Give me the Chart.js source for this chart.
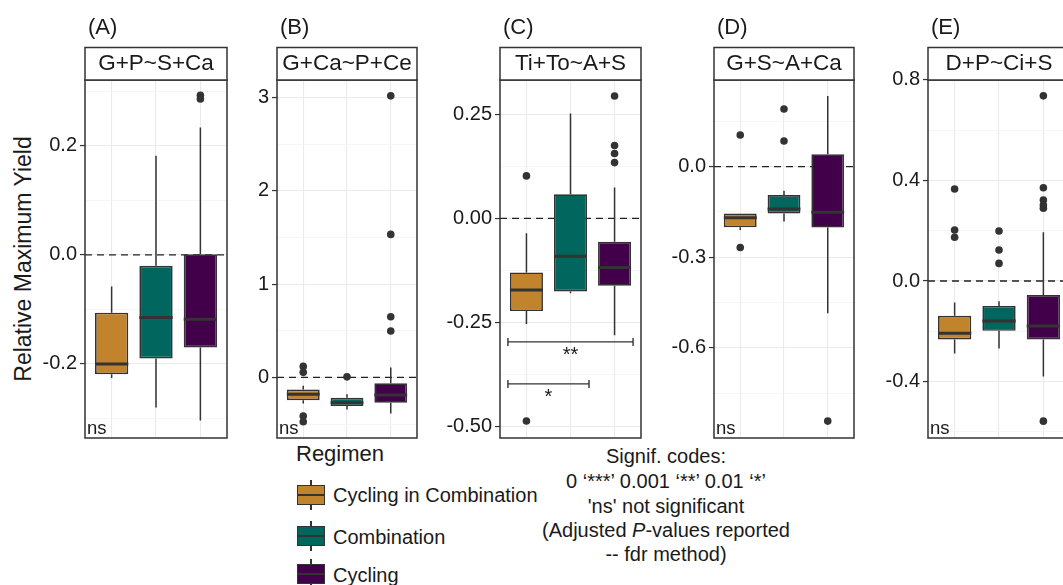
<!DOCTYPE html>
<html>
<head>
<meta charset="utf-8">
<script src="https://cdn.jsdelivr.net/npm/chart.js@4"></script>
<style>
  html, body { margin: 0; overflow: hidden; }
  body { width: 1063px; height: 585px; position: relative; background: #fff;
         font-family: "Liberation Sans", Arial, sans-serif; color: #1a1a1a; }
  canvas { position: absolute; top: 0; }
  .txt { position: absolute; white-space: nowrap; line-height: 1; }
  .whisker { position: absolute; width: 1.5px; background: #333; }
  .key { position: absolute; width: 28px; height: 20px; box-sizing: border-box; border: 1.5px solid #333; }
  .key div { position: absolute; left: 0; right: 0; top: 7.5px; height: 2px; background: #333; }
</style>
</head>
<body>
<div class="txt" id="ytitle" style="left:23px; top:259px; font-size:23px; transform:translate(-50%,-50%) rotate(-90deg);">Relative Maximum Yield</div>
<div class="txt" style="left:296px; top:442.6px; font-size:22px;">Regimen</div>
<div id="legend"></div>
<div class="txt" style="left:466px; width:400px; text-align:center; top:445.7px; font-size:20px;">Signif. codes:</div>
<div class="txt" style="left:466px; width:400px; text-align:center; top:471.2px; font-size:20px;">0 ‘***’ 0.001 ‘**’ 0.01 ‘*’</div>
<div class="txt" style="left:466px; width:400px; text-align:center; top:495.7px; font-size:20px;">'ns' not significant</div>
<div class="txt" style="left:466px; width:400px; text-align:center; top:520.2px; font-size:20px;">(Adjusted <i>P</i>-values reported</div>
<div class="txt" style="left:466px; width:400px; text-align:center; top:544.2px; font-size:20px;">-- fdr method)</div>
<script>
// regimens, in plotting order
const regimens = ["Cycling in Combination", "Combination", "Cycling"];
const regimenColors = ["#C2832D", "#00665E", "#42004A"];

// each box: [whisker low, q1, median, q3, whisker high]
const boxA = [[-0.226, -0.219, -0.200, -0.106, -0.058], [-0.280, -0.190, -0.115, -0.020, 0.182], [-0.304, -0.170, -0.118, 0.001, 0.234]];
const outA = [[], [], [0.293, 0.286]];

const boxB = [[-0.280, -0.244, -0.182, -0.129, -0.090], [-0.343, -0.308, -0.272, -0.219, -0.180], [-0.386, -0.272, -0.190, -0.064, 0.107]];
const outB = [[0.118, 0.054, -0.415, -0.476], [0.006], [3.02, 1.534, 0.650, 0.497]];

const boxC = [[-0.254, -0.223, -0.172, -0.130, -0.036], [-0.180, -0.176, -0.091, 0.058, 0.252], [-0.281, -0.162, -0.118, -0.056, 0.074]];
const outC = [[0.102, -0.487], [], [0.294, 0.175, 0.156, 0.134]];

const boxD = [[-0.210, -0.201, -0.169, -0.155, -0.155], [-0.182, -0.155, -0.140, -0.094, -0.080], [-0.486, -0.202, -0.151, 0.041, 0.234]];
const outD = [[0.105, -0.268], [0.191, 0.085], [-0.843]];

const boxE = [[-0.288, -0.232, -0.208, -0.138, -0.085], [-0.268, -0.198, -0.159, -0.099, -0.080], [-0.380, -0.232, -0.179, -0.056, 0.194]];
const outE = [[0.366, 0.203, 0.174], [0.199, 0.123, 0.070], [0.736, 0.371, 0.322, 0.302, 0.289, -0.557]];

// significance brackets (panel C)
const bracketsC = [
  { from: 1, to: 3, y: -0.297, label: "**" },
  { from: 1, to: 2, y: -0.398, label: "*" }
];

// y axis ticks
const majorA = [-0.2, 0, 0.2],          minorA = [-0.3, -0.1, 0.1, 0.3];
const majorB = [0, 1, 2, 3],            minorB = [-0.5, 0.5, 1.5, 2.5];
const majorC = [-0.5, -0.25, 0, 0.25],  minorC = [-0.375, -0.125, 0.125];
const majorD = [-0.6, -0.3, 0],         minorD = [-0.75, -0.45, -0.15, 0.15];
const majorE = [-0.4, 0, 0.4, 0.8],     minorE = [-0.6, -0.2, 0.2, 0.6];

const panels = [
  { tag: "(A)", title: "G+P~S+Ca",  box: boxA, out: outA, major: majorA, minor: minorA, dec: 1, yMin: -0.336, yMax: 0.321,  ns: true,  left: 85,  width: 142 },
  { tag: "(B)", title: "G+Ca~P+Ce", box: boxB, out: outB, major: majorB, minor: minorB, dec: 0, yMin: -0.65,  yMax: 3.19,   ns: true,  left: 277, width: 140 },
  { tag: "(C)", title: "Ti+To~A+S", box: boxC, out: outC, major: majorC, minor: minorC, dec: 2, yMin: -0.528, yMax: 0.3325, ns: false, left: 500, width: 141, brackets: bracketsC },
  { tag: "(D)", title: "G+S~A+Ca",  box: boxD, out: outD, major: majorD, minor: minorD, dec: 1, yMin: -0.899, yMax: 0.287,  ns: true,  left: 714, width: 140 },
  { tag: "(E)", title: "D+P~Ci+S",  box: boxE, out: outE, major: majorE, minor: minorE, dec: 1, yMin: -0.624, yMax: 0.799,  ns: true,  left: 928, width: 142 }
];

const AXIS_W = 60, TOP = 80, PLOT_H = 358, BOTTOM_PAD = 16;
Chart.defaults.font.family = '"Liberation Sans", Arial, sans-serif';

const isMajor = (p, v) => p.major.some(m => Math.abs(m - v) < 1e-9);

// whiskers, medians, zero line, strips etc.
const boxExtras = {
  id: "boxExtras",
  beforeDatasetsDraw(chart, args, opts) {
    const { ctx, chartArea: a, scales: { x, y } } = chart;
    const p = opts.panel;
    ctx.save();
    const y0 = y.getPixelForValue(0);
    ctx.strokeStyle = "#222";
    ctx.lineWidth = 1.4;
    ctx.setLineDash([7, 5]);
    ctx.beginPath();
    ctx.moveTo(a.left, y0);
    ctx.lineTo(a.right, y0);
    ctx.stroke();
    ctx.setLineDash([]);
    ctx.strokeStyle = "#333";
    ctx.lineWidth = 1.5;
    p.box.forEach((b, i) => {
      const px = x.getPixelForValue(i + 1);
      ctx.beginPath();
      ctx.moveTo(px, y.getPixelForValue(b[0]));
      ctx.lineTo(px, y.getPixelForValue(b[1]));
      ctx.moveTo(px, y.getPixelForValue(b[3]));
      ctx.lineTo(px, y.getPixelForValue(b[4]));
      ctx.stroke();
    });
    ctx.restore();
  },
  afterDatasetsDraw(chart, args, opts) {
    const { ctx, chartArea: a, scales: { x, y } } = chart;
    const p = opts.panel;
    ctx.save();
    // medians
    ctx.strokeStyle = "#333";
    ctx.lineWidth = 3;
    p.box.forEach((b, i) => {
      const ym = y.getPixelForValue(b[2]);
      ctx.beginPath();
      ctx.moveTo(x.getPixelForValue(i + 1 - 0.375), ym);
      ctx.lineTo(x.getPixelForValue(i + 1 + 0.375), ym);
      ctx.stroke();
    });
    // brackets
    ctx.lineWidth = 1.4;
    ctx.fillStyle = "#1a1a1a";
    ctx.font = '20px "Liberation Sans", Arial, sans-serif';
    ctx.textAlign = "center";
    ctx.textBaseline = "alphabetic";
    (p.brackets || []).forEach(br => {
      const x1 = x.getPixelForValue(br.from - 0.42);
      const x2 = x.getPixelForValue(br.to + 0.42);
      const yy = y.getPixelForValue(br.y);
      ctx.beginPath();
      ctx.moveTo(x1, yy); ctx.lineTo(x2, yy);
      ctx.moveTo(x1, yy - 4); ctx.lineTo(x1, yy + 4);
      ctx.moveTo(x2, yy - 4); ctx.lineTo(x2, yy + 4);
      ctx.stroke();
      const xm = (x.getPixelForValue(br.from) + x.getPixelForValue(br.to)) / 2;
      ctx.fillText(br.label, xm, yy + 19);
    });
    if (p.ns) {
      ctx.textAlign = "left";
      ctx.font = '18.5px "Liberation Sans", Arial, sans-serif';
      ctx.fillText("ns", a.left + 2, a.bottom - 4.5);
    }
    ctx.restore();
  },
  afterDraw(chart, args, opts) {
    const { ctx, chartArea: a } = chart;
    const p = opts.panel;
    ctx.save();
    ctx.strokeStyle = "#333";
    ctx.lineWidth = 1.5;
    ctx.strokeRect(a.left, a.top, a.right - a.left, a.bottom - a.top);
    // strip
    ctx.fillStyle = "#fff";
    ctx.fillRect(a.left, a.top - 32.5, a.right - a.left, 32.5);
    ctx.strokeRect(a.left, a.top - 32.5, a.right - a.left, 32.5);
    ctx.fillStyle = "#1a1a1a";
    ctx.font = '22.5px "Liberation Sans", Arial, sans-serif';
    ctx.textAlign = "center";
    ctx.textBaseline = "middle";
    ctx.fillText(p.title, (a.left + a.right) / 2, a.top - 16);
    ctx.textAlign = "left";
    ctx.font = '22px "Liberation Sans", Arial, sans-serif';
    ctx.fillText(p.tag, a.left + 3, 28);
    ctx.restore();
  }
};

panels.forEach(p => {
  const canvas = document.createElement("canvas");
  canvas.width = AXIS_W + p.width + 4;
  canvas.height = TOP + PLOT_H + BOTTOM_PAD;
  canvas.style.left = (p.left - AXIS_W) + "px";
  document.body.appendChild(canvas);

  const boxes = p.box.map((b, i) => ({ x: i + 1, y: [b[1], b[3]] }));
  const outliers = [];
  p.out.forEach((vals, i) => vals.forEach(v => outliers.push({ x: i + 1, y: v })));
  const yTicks = p.major.concat(p.minor).sort((u, v) => u - v);

  new Chart(canvas, {
    type: "bar",
    data: {
      datasets: [
        { type: "scatter", order: 0, data: outliers, pointRadius: 3.8,
          pointBackgroundColor: "#333", pointBorderWidth: 0 },
        { type: "bar", order: 1, data: boxes, backgroundColor: regimenColors,
          borderColor: "#333", borderWidth: 1.7, borderSkipped: false,
          categoryPercentage: 1, barPercentage: 0.75 }
      ]
    },
    options: {
      responsive: false,
      animation: false,
      events: [],
      layout: { padding: { top: TOP, bottom: BOTTOM_PAD, left: 0, right: 4 } },
      plugins: { legend: { display: false }, tooltip: { enabled: false }, boxExtras: { panel: p } },
      scales: {
        x: {
          type: "linear", min: 0.4, max: 3.6, offset: false,
          afterBuildTicks: s => { s.ticks = [1, 2, 3].map(v => ({ value: v })); },
          afterFit: s => { s.height = 0; },
          ticks: { display: false },
          grid: { color: "#EBEBEB", lineWidth: 1.1, drawTicks: false, offset: false },
          border: { display: false }
        },
        y: {
          min: p.yMin, max: p.yMax,
          afterBuildTicks: s => { s.ticks = yTicks.map(v => ({ value: v })); },
          afterFit: s => { s.width = AXIS_W; s.paddingTop = 0; s.paddingBottom = 0; },
          ticks: {
            autoSkip: false, padding: 3, color: "#1a1a1a", font: { size: 20 },
            callback: v => isMajor(p, v) ? v.toFixed(p.dec) : ""
          },
          grid: {
            color: c => isMajor(p, c.tick.value) ? "#EBEBEB" : "#F2F2F2",
            lineWidth: c => isMajor(p, c.tick.value) ? 1.1 : 0.7,
            tickLength: 5,
            tickColor: c => isMajor(p, c.tick.value) ? "#333" : "rgba(0,0,0,0)",
            tickWidth: 1.2
          },
          border: { display: false }
        }
      }
    },
    plugins: [boxExtras]
  });
});

// legend keys
const legend = document.getElementById("legend");
const keyCenters = [495, 536.3, 574.3];
regimens.forEach((r, i) => {
  const cy = keyCenters[i];
  legend.insertAdjacentHTML("beforeend",
    `<div class="whisker" style="left:310.3px; top:${cy - 15}px; height:30px;"></div>` +
    `<div class="key" style="left:297px; top:${cy - 10}px; background:${regimenColors[i]};"><div></div></div>` +
    `<div class="txt" style="left:333px; top:${cy - 9.8}px; font-size:20px;">${r}</div>`);
});
</script>
</body>
</html>
